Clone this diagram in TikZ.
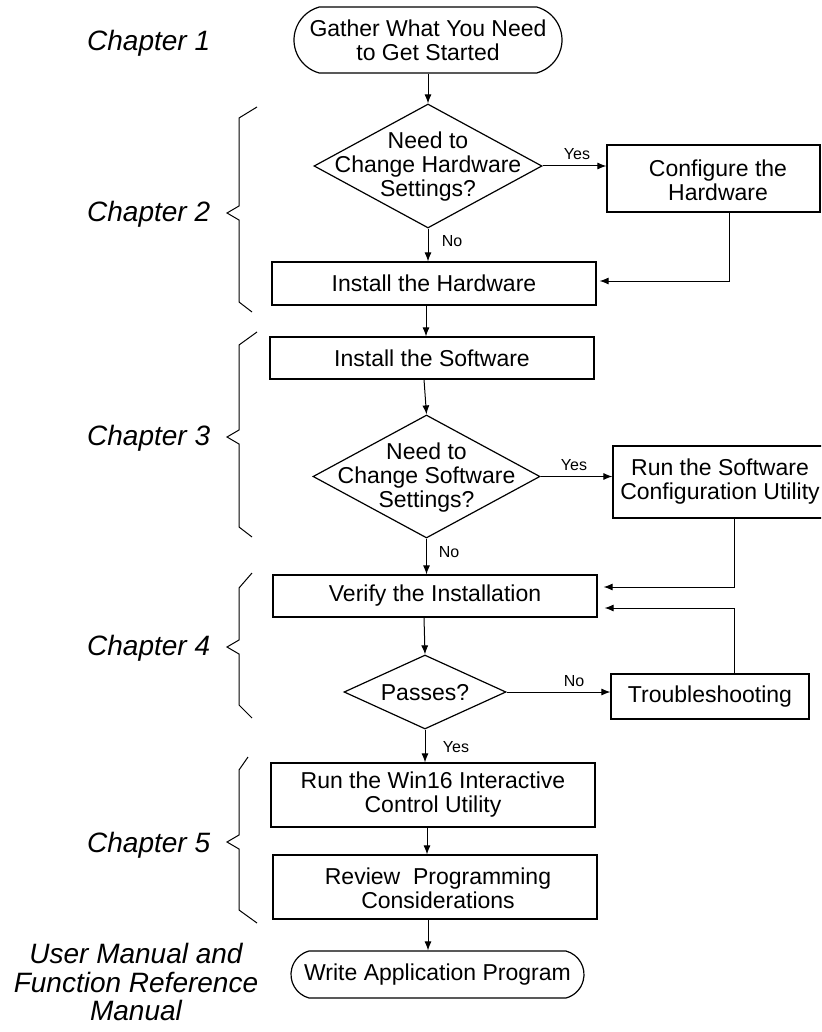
\documentclass[tikz,border=0pt]{standalone}
\usepackage{fontspec}
\setmainfont{Liberation Sans}
\usetikzlibrary{shapes.geometric,shapes.misc,arrows.meta}
\newcommand\boxfont{\fontsize{23}{24}\selectfont}
\newcommand\lblfont{\fontsize{16}{16}\selectfont}
\newcommand\chapfont{\fontsize{28}{28.5}\selectfont\itshape}
\begin{document}
\begin{tikzpicture}[x=1pt,y=-1pt,
  box/.style={draw, line width=1.2pt, rectangle, inner sep=0pt, align=center, font=\boxfont},
  term/.style={draw, line width=1.2pt, rounded rectangle, rounded rectangle arc length=150, inner sep=0pt, align=center, font=\boxfont},
  dia/.style={draw, line width=1.2pt, diamond, inner sep=0pt},
  diatext/.style={inner sep=0pt, align=center, font=\boxfont},
  lbl/.style={inner sep=0pt, font=\lblfont},
  arr/.style={line width=1pt, -{Latex[length=9pt,width=7pt]}},
  chap/.style={inner sep=0pt, anchor=base west, font=\chapfont},
  bracepath/.style={line width=1pt, line join=miter}]
\useasboundingbox (0,0) rectangle (821,1032);
\fill[white] (0,0) rectangle (821,1032);
\clip (0,0) rectangle (821,1032);

% chapter labels
\node[chap] (ch1) at (87,51) {Chapter 1};
\node[chap] (ch2) at (87,222) {Chapter 2};
\node[chap] (ch3) at (87,445) {Chapter 3};
\node[chap] (ch4) at (87,655) {Chapter 4};
\node[chap] (ch5) at (87,852) {Chapter 5};
\node[inner sep=0pt, align=center, font=\chapfont] (man) at (136,982) {User Manual and\\Function Reference\\Manual};

% braces
\draw[bracepath] (257,107) -- (239,118) -- (239,206) -- (227,213) -- (239,220) -- (239,302) -- (252,312);
\draw[bracepath] (257,332) -- (239,345) -- (239,430) -- (227,437) -- (239,444) -- (239,527) -- (252,537);
\draw[bracepath] (252,573) -- (239,588) -- (239,640) -- (227,647) -- (239,654) -- (239,705) -- (252,718);
\draw[bracepath] (248,757) -- (239,770) -- (239,835) -- (227,842) -- (239,849) -- (239,910) -- (257,923);

% nodes
\node[term, minimum width=268pt, minimum height=66pt] (start) at (428,40) {Gather What You Need\\to Get Started};
\node[dia, minimum width=228pt, minimum height=124pt] (d1) at (428,166) {};
\node[diatext] (d1t) at (428,166.5) {Need to\\Change Hardware\\Settings?};
\node[box, minimum width=213pt, minimum height=67pt] (cfg) at (713.5,178.5) {};
\node[diatext] (cfgt) at (718,180) {Configure the\\Hardware};
\node[box, minimum width=324pt, minimum height=43pt] (ihw) at (434,283.5) {Install the Hardware};
\node[box, minimum width=324pt, minimum height=42pt] (isw) at (432,358) {Install the Software};
\node[dia, minimum width=227pt, minimum height=123pt] (d2) at (426.5,476.5) {};
\node[diatext] (d2t) at (426.5,477.5) {Need to\\Change Software\\Settings?};
\node[box, minimum width=214pt, minimum height=72pt] (rsw) at (720,482) {Run the Software\\Configuration Utility};
\node[box, minimum width=324pt, minimum height=42pt] (ver) at (435,596) {Verify the Installation};
\node[dia, minimum width=162pt, minimum height=74pt] (d3) at (425,692) {};
\node[diatext] (d3t) at (425,693) {Passes?};
\node[box, minimum width=198pt, minimum height=45pt] (trb) at (710,696.5) {Troubleshooting};
\node[box, minimum width=324pt, minimum height=64pt] (w16) at (433,795) {Run the Win16 Interactive\\Control Utility};
\node[box, minimum width=324pt, minimum height=64pt] (rev) at (435,887) {};
\node[diatext] (revt) at (438,888) {Review\ \ Programming\\Considerations};
\node[term, minimum width=293pt, minimum height=47pt] (wap) at (437.5,974.5) {Write Application Program};

% connectors
\draw[arr] (start.south -| d1.north) -- (d1.north);
\draw[arr] (d1.east) -- (d1.east -| cfg.west);
\draw[arr] (d1.south) -- (d1.south |- ihw.north);
\draw[arr] ([xshift=15.5pt]cfg.south) |- ([xshift=3pt,yshift=2.5pt]ihw.east);
\draw[arr] ([xshift=-8pt]ihw.south) -- ([xshift=-6pt]isw.north);
\draw[arr] ([xshift=-8pt]isw.south) -- (d2.north);
\draw[arr] (d2.east) -- (d2.east -| rsw.west);
\draw[arr] ([xshift=14pt]rsw.south) |- ([xshift=6pt,yshift=9pt]ver.east);
\draw[arr] (d2.south) -- (d2.south |- ver.north);
\draw[arr] ([xshift=-11pt]ver.south) -- (d3.north);
\draw[arr] (d3.east) -- (d3.east -| trb.west);
\draw[arr] ([xshift=24pt]trb.north) |- ([xshift=7pt,yshift=-12pt]ver.east);
\draw[arr] (d3.south) -- (d3.south |- w16.north);
\draw[arr] ([xshift=-6pt]w16.south) -- ([xshift=-8pt]rev.north);
\draw[arr] ([xshift=-7pt]rev.south) -- ([xshift=-9.5pt]wap.north);

% labels
\node[lbl] (l1) at (577,154) {Yes};
\node[lbl] (l2) at (452,241) {No};
\node[lbl] (l3) at (574,465) {Yes};
\node[lbl] (l4) at (449,552) {No};
\node[lbl] (l5) at (574,681) {No};
\node[lbl] (l6) at (456,747) {Yes};
\end{tikzpicture}
\end{document}
